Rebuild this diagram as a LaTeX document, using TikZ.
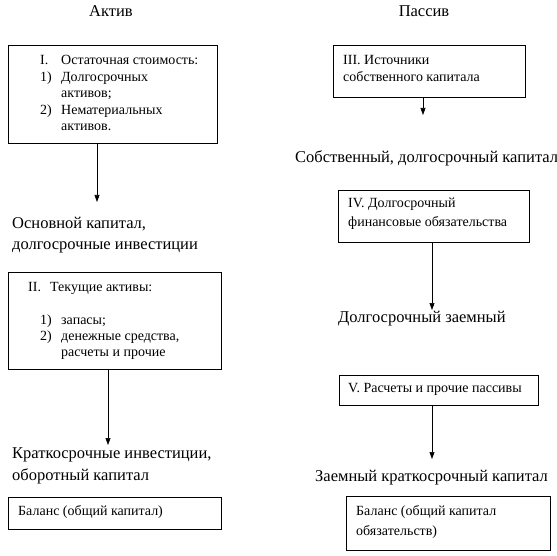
\documentclass[tikz,border=0pt]{standalone}
\usepackage{fontspec}
\setmainfont{Liberation Serif}
\usetikzlibrary{arrows.meta}
\begin{document}
\begin{tikzpicture}[x=1pt,y=-1pt,
  box/.style={draw, line width=0.8pt, inner sep=0pt, anchor=north west},
  big/.style={font=\fontsize{16.5}{19}\selectfont, inner sep=0pt, anchor=base west},
  small/.style={font=\fontsize{14}{16}\selectfont, inner sep=0pt, anchor=base west},
  title/.style={font=\fontsize{16.5}{19}\selectfont, inner sep=0pt, anchor=base},
  arr/.style={-{Triangle[length=7pt,width=5pt]}, line width=0.6pt}]
\useasboundingbox (0,0) rectangle (557,556);
% titles
\node[title] (tA) at (111,17) {Актив};
\node[title] (tP) at (424,17) {Пассив};
% boxes
\node[box, minimum width=209pt, minimum height=98pt] (b1) at (8,45) {};
\node[box, minimum width=213pt, minimum height=97pt] (b2) at (8,272) {};
\node[box, minimum width=213pt, minimum height=32pt] (bl) at (8,497) {};
\node[box, minimum width=192pt, minimum height=52pt] (b3) at (333,45) {};
\node[box, minimum width=191pt, minimum height=52pt] (b4) at (338,190) {};
\node[box, minimum width=199pt, minimum height=30pt] (b5) at (339,375) {};
\node[box, minimum width=204pt, minimum height=54pt] (br) at (346,496) {};
% box I text
\node[small] (t1a) at (40,65) {I.};
\node[small] (t1b) at (61,65) {Остаточная стоимость:};
\node[small] (t1c) at (40,81.5) {1)};
\node[small] (t1d) at (61,81.5) {Долгосрочных};
\node[small] (t1e) at (61,98) {активов;};
\node[small] (t1f) at (40,114.5) {2)};
\node[small] (t1g) at (61,114.5) {Нематериальных};
\node[small] (t1h) at (61,131) {активов.};
% box II text
\node[small] (t2a) at (28,291) {II.};
\node[small] (t2b) at (50,291) {Текущие активы:};
\node[small] (t2c) at (40,324) {1)};
\node[small] (t2d) at (61,324) {запасы;};
\node[small] (t2e) at (40,340) {2)};
\node[small] (t2f) at (61,340) {денежные средства,};
\node[small] (t2g) at (61,356) {расчеты и прочие};
% balance left
\node[small] (tl) at (18,515) {Баланс (общий капитал)};
% big left labels
\node[big] (L1a) at (12,229) {Основной капитал,};
\node[big] (L1b) at (12,250) {долгосрочные инвестиции};
\node[big] (L2a) at (12,458) {Краткосрочные инвестиции,};
\node[big] (L2b) at (12,480) {оборотный капитал};
% right texts
\node[small] (t3a) at (343,65) {III. Источники};
\node[small] (t3b) at (343,82) {собственного капитала};
\node[big] (R1) at (295,163) {Собственный, долгосрочный капитал};
\node[small] (t4a) at (348,208) {IV. Долгосрочный};
\node[small] (t4b) at (348,227) {финансовые обязательства};
\node[big] (R2) at (338,322) {Долгосрочный заемный};
\node[small] (t5) at (348,392) {V. Расчеты и прочие пассивы};
\node[big] (R3) at (315,481) {Заемный краткосрочный капитал};
\node[small] (tra) at (356,515) {Баланс (общий капитал};
\node[small] (trb) at (356,535) {обязательств)};
% arrow ends
\coordinate (e1) at (97,202);
\coordinate (e2) at (108,445);
\coordinate (e3) at (423,115);
\coordinate (e4) at (432,310);
\coordinate (e5) at (432,459);
\draw[arr] (b1.south -| e1) -- (e1);
\draw[arr] (b2.south -| e2) -- (e2);
\draw[arr] (b3.south -| e3) -- (e3);
\draw[arr] (b4.south -| e4) -- (e4);
\draw[arr] (b5.south -| e5) -- (e5);
\end{tikzpicture}
\end{document}
